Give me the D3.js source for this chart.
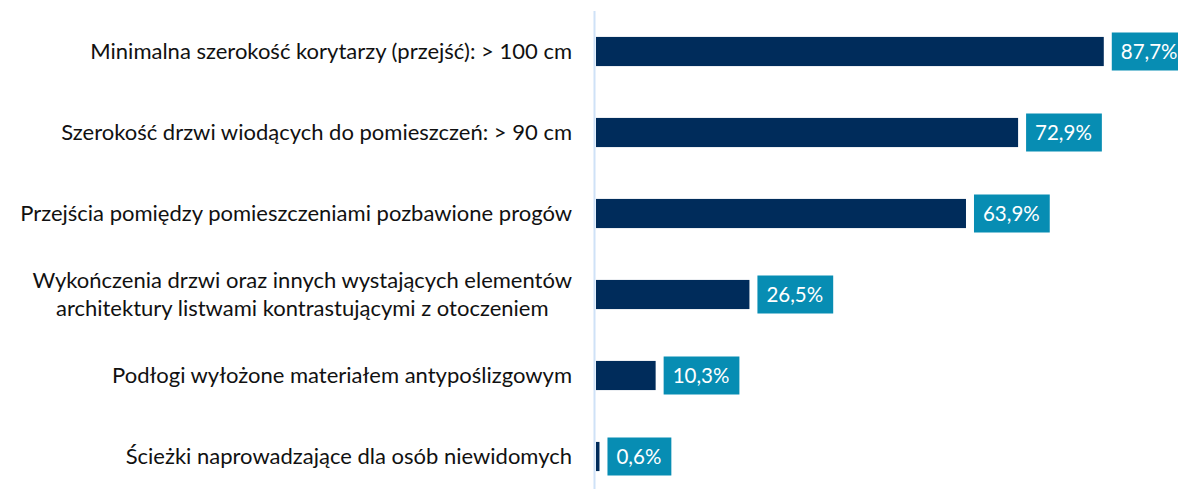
<!DOCTYPE html>
<html>
<head>
<meta charset="utf-8">
<script src="https://cdn.jsdelivr.net/npm/d3@7"></script>
<style>
  body { margin: 0; background: #fff; }
  svg text { font-family: Lato, "Open Sans", sans-serif; }
</style>
</head>
<body>
<script>
// Categories (top to bottom) and values in %
const categories = [
    'Minimalna szerokość korytarzy (przejść): > 100 cm',
    'Szerokość drzwi wiodących do pomieszczeń: > 90 cm',
    'Przejścia pomiędzy pomieszczeniami pozbawione progów',
    'Wykończenia drzwi oraz innych wystających elementów\narchitektury listwami kontrastującymi z otoczeniem',
    'Podłogi wyłożone materiałem antypoślizgowym',
    'Ścieżki naprowadzające dla osób niewidomych'
];
const values = [87.7, 72.9, 63.9, 26.5, 10.3, 0.6];

const width = 1178, height = 489;
const x0 = 596;

const svg = d3.select('body').append('svg')
    .attr('width', width)
    .attr('height', height);

const x = d3.scaleLinear()
    .domain([0, 100])
    .range([x0, x0 + 579]);

const y = d3.scaleBand()
    .domain(categories)
    .range([11, 497])
    .paddingInner(0.64)
    .paddingOuter(0.32);

// Axis line
svg.append('line')
    .attr('x1', x0 - 1.5).attr('x2', x0 - 1.5)
    .attr('y1', 11).attr('y2', height)
    .attr('stroke', '#cfe2f7')
    .attr('stroke-width', 2);

// Bars
svg.selectAll('.bar')
    .data(values)
    .enter().append('rect')
    .attr('class', 'bar')
    .attr('x', x(0))
    .attr('y', (d, i) => y(categories[i]))
    .attr('width', d => x(d) - x(0))
    .attr('height', y.bandwidth())
    .attr('fill', '#002c5b');

// Value labels in boxes
const fmt = d => d.toFixed(1).replace('.', ',') + '%';
const lab = svg.selectAll('.lab')
    .data(values)
    .enter().append('g')
    .attr('class', 'lab')
    .attr('transform', (d, i) => `translate(${x(d) + 8},${y(categories[i]) + y.bandwidth() / 2})`);

lab.append('rect')
    .attr('y', -19)
    .attr('height', 38)
    .attr('fill', '#078db3');

lab.append('text')
    .attr('x', 9)
    .attr('dy', '0.35em')
    .attr('fill', '#fff')
    .style('font-size', '20.5px')
    .text(fmt);

lab.each(function() {
    const t = d3.select(this).select('text').node();
    d3.select(this).select('rect').attr('width', t.getComputedTextLength() + 19);
});

// Category labels
const right = 572;
categories.forEach((c, i) => {
    const lines = c.split('\n');
    const cy = y(c) + y.bandwidth() / 2;
    const g = svg.append('g');
    const texts = lines.map((ln, j) => g.append('text')
        .attr('y', cy + (j - (lines.length - 1) / 2) * 28)
        .attr('dy', '0.35em')
        .attr('fill', '#111')
        .style('font-size', '22px')
        .text(ln));
    if (lines.length === 1) {
        texts[0].attr('x', right).attr('text-anchor', 'end');
    } else {
        const w = d3.max(texts, t => t.node().getComputedTextLength());
        texts.forEach(t => t.attr('x', right - w / 2).attr('text-anchor', 'middle'));
    }
});
</script>
</body>
</html>
